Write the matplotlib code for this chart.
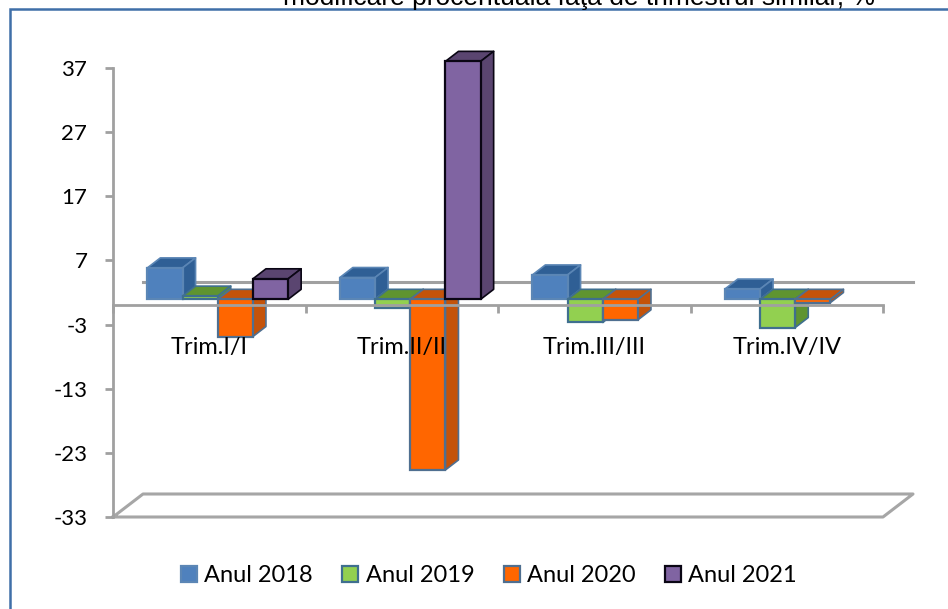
import matplotlib
matplotlib.use("Agg")
import matplotlib.pyplot as plt
from matplotlib.patches import Rectangle
import numpy as np

plt.rcParams["axes.unicode_minus"] = False

categories = ["Trim.I/I", "Trim.II/II", "Trim.III/III", "Trim.IV/IV"]
series_names = ["Anul 2018", "Anul 2019", "Anul 2020", "Anul 2021"]
anul_2018 = [4.9, 3.4, 3.8, 1.6]
anul_2019 = [0.5, -1.3, -3.6, -4.4]
anul_2020 = [-5.8, -26.6, -3.2, -0.5]
anul_2021 = [3.2, 37.1, None, None]
y_ticks = [37, 27, 17, 7, -3, -13, -23, -33]
title = "modificare procentuală faţă de trimestrul similar, %"

front = ["#4F81BD", "#92D050", "#FF6600", "#8064A2"]
side = ["#2F5F95", "#5F9430", "#C4530A", "#5A4570"]
edge = ["#5B86B5", "#3F6F8F", "#4F6F90", "#0A0614"]
gray = "#A0A0A0"

W, H = 948, 609
fig = plt.figure(figsize=(W / 100, H / 100), dpi=100, facecolor="white")
fig.add_artist(Rectangle((10 / W, -0.01), (W + 10) / W, 1 - 9 / H + 0.01, transform=fig.transFigure,
                         fc="none", ec="#3F6FA8", lw=1.8))
fig.text(579 / W, 1 - 5 / H, title, family="Liberation Sans", fontsize=19, ha="center", va="baseline", color="black")

ax = fig.add_axes([113 / W, (H - 517) / H, 770 / W, 449 / H])
ax.set_xlim(0, 4)
ax.set_ylim(-33, 37)
ax.patch.set_visible(False)
for s in ["top", "right"]:
    ax.spines[s].set_visible(False)
ax.spines["bottom"].set_position(("data", 0))
for s in ["left", "bottom"]:
    ax.spines[s].set_color(gray)
    ax.spines[s].set_linewidth(2)

px_x = 4 / 770
px_y = 70 / 449
ddx, ddy = 30 * px_x, 23 * px_y      # full chart depth
ox, oy = 8.5 * px_x, 6 * px_y        # bar offset from the front plane
bdx, bdy = 13 * px_x, 10 * px_y      # bar depth
bw = 35.2 * px_x

# floor and back-plane zero line
ax.plot([0, 4, 4 + ddx, ddx, 0], [-33, -33, -33 + ddy, -33 + ddy, -33], color="#A6A6A6", lw=2.2, zorder=0.4, clip_on=False)
ax.plot([ddx, 4 + ddx], [ddy, ddy], color=gray, lw=2.2, zorder=0.5, clip_on=False)

data = [anul_2018, anul_2019, anul_2020, anul_2021]
z = 1.0
handles = [None] * 4
for c in range(len(categories)):
    start = c + 0.5 - 2 * bw + ox
    for i, vals in enumerate(data):
        v = vals[c]
        if v is None:
            continue
        xl = start + i * bw
        xr = xl + bw
        hi = max(v, 0) + oy
        lo = min(v, 0) + oy
        kw = dict(ec=edge[i], lw=1.2, clip_on=False, joinstyle="round")
        ax.fill([xl, xl + bdx, xr + bdx, xr], [hi, hi + bdy, hi + bdy, hi], fc=side[i], zorder=z, **kw)
        ax.fill([xr, xr + bdx, xr + bdx, xr], [lo, lo + bdy, hi + bdy, hi], fc=side[i], zorder=z + 0.01, **kw)
        bars = ax.bar(xl, hi - lo, bottom=lo, width=bw, align="edge", color=front[i], edgecolor=edge[i],
                      linewidth=1.6, zorder=z + 0.02, clip_on=False, label=series_names[i])
        handles[i] = bars[0]
        z += 0.03

ax.set_yticks(y_ticks)
ax.set_xticks(range(5))
ax.set_xticklabels([])
ax.set_xticks(np.arange(4) + 0.5, categories, minor=True)
ax.tick_params(axis="y", direction="out", length=6, width=2, color=gray, labelsize=16, pad=12.5)
ax.tick_params(axis="x", which="major", direction="out", length=5.5, width=2, color=gray)
ax.tick_params(axis="x", which="minor", length=0, labelsize=17, pad=22.5)
for t in ax.get_yticklabels() + ax.get_xticklabels(minor=True):
    t.set_family("Lato")

leg = ax.legend(handles=handles, labels=series_names, ncol=4, loc="center", bbox_to_anchor=(489 / W, (H - 576) / H),
                bbox_transform=fig.transFigure, frameon=False, prop={"family": "Lato", "size": 17},
                handlelength=0.68, handleheight=0.68, handletextpad=0.3, columnspacing=1.25, borderpad=0)

fig.savefig("out.png", dpi=100)
